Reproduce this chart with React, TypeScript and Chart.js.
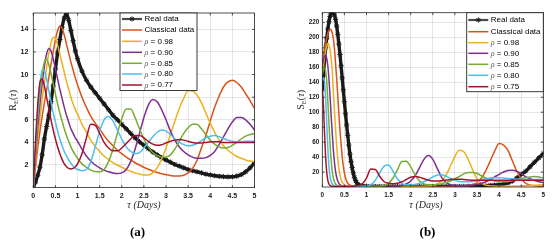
import { useEffect, useRef } from "react";
import { Chart, registerables } from "chart.js";

Chart.register(...registerables);

// ---------------- Panel (a): R_E(tau) ----------------
const TAU_A = [
  0, 0.05, 0.1, 0.15, 0.2, 0.25, 0.3, 0.35, 0.4, 0.45, 0.5, 0.55, 0.6, 0.65, 0.7, 0.75, 0.8, 0.85, 0.9, 0.95, 1,
  1.1, 1.2, 1.3, 1.4, 1.5, 1.6, 1.7, 1.8, 1.9, 2, 2.1, 2.2, 2.3, 2.4, 2.5, 2.6, 2.7, 2.8, 2.9, 3,
  3.1, 3.2, 3.3, 3.4, 3.5, 3.6, 3.7, 3.8, 3.9, 4, 4.1, 4.2, 4.3, 4.4, 4.5, 4.6, 4.7, 4.8, 4.9, 5,
];
const A_REAL = [
  0, 0.5, 1.1, 1.8, 2.9, 4.3, 5.4, 6.4, 7.6, 9.0, 10.5, 11.9, 13.1, 14.2, 15.0, 15.4, 14.8, 13.9, 13.0, 12.1, 11.4,
  10.3, 9.5, 8.9, 8.4, 7.9, 7.4, 6.9, 6.4, 6.0, 5.6, 5.2, 4.8, 4.4, 4.05, 3.75, 3.45, 3.15, 2.9, 2.65, 2.45,
  2.25, 2.05, 1.9, 1.75, 1.6, 1.5, 1.4, 1.3, 1.2, 1.12, 1.05, 1.0, 0.97, 0.95, 0.96, 1.02, 1.15, 1.4, 1.75, 2.2,
];
const A_CLASSICAL = [
  0, 1.8, 3.5, 5.0, 6.3, 7.5, 8.6, 9.7, 10.9, 12.0, 13.1, 13.9, 14.3, 14.1, 13.5, 12.7, 11.9, 11.1, 10.4, 9.7, 9.1,
  8.0, 7.1, 6.3, 5.7, 5.2, 4.6, 4.1, 3.7, 3.3, 3.0, 2.7, 2.45, 2.2, 2.0, 1.8, 1.62, 1.47, 1.33, 1.22, 1.13,
  1.07, 1.03, 1.03, 1.1, 1.3, 1.7, 2.4, 3.5, 4.6, 5.9, 7.1, 8.1, 8.9, 9.35, 9.5, 9.3, 8.9, 8.3, 7.7, 7.0,
];
const A_R098 = [
  0, 2.3, 4.4, 6.2, 7.8, 9.2, 10.6, 11.9, 12.8, 13.3, 13.2, 12.6, 11.8, 11.0, 10.2, 9.4, 8.7, 8.0, 7.4, 6.9, 6.5,
  5.6, 4.9, 4.2, 3.65, 3.2, 2.8, 2.5, 2.2, 2.0, 1.8, 1.6, 1.45, 1.3, 1.2, 1.12, 1.12, 1.3, 1.75, 2.5, 3.5,
  4.7, 5.9, 7.0, 7.9, 8.6, 8.55, 8.2, 7.5, 6.6, 5.7, 4.9, 4.2, 3.7, 3.3, 3.0, 2.75, 2.6, 2.45, 2.35, 2.3,
];
const A_R090 = [
  0, 2.8, 5.3, 7.4, 9.2, 10.7, 11.8, 12.3, 12.1, 11.4, 10.5, 9.6, 8.7, 7.9, 7.1, 6.4, 5.8, 5.2, 4.8, 4.4, 4.1,
  3.4, 2.8, 2.35, 2.0, 1.75, 1.55, 1.4, 1.3, 1.25, 1.3, 1.6, 2.3, 3.4, 4.8, 6.2, 7.3, 7.8, 7.6, 6.9, 6.0,
  5.0, 4.2, 3.6, 3.2, 2.9, 2.7, 2.6, 2.6, 2.65, 2.85, 3.2, 3.8, 4.5, 5.2, 5.8, 6.2, 6.2, 6.0, 5.6, 5.1,
];
const A_R085 = [
  0, 3.2, 6.0, 8.3, 10.0, 11.1, 11.35, 10.9, 10.1, 9.2, 8.3, 7.4, 6.6, 5.9, 5.2, 4.6, 4.1, 3.6, 3.2, 2.9, 2.6,
  2.1, 1.8, 1.55, 1.42, 1.4, 1.6, 2.3, 3.4, 4.8, 6.1, 6.95, 6.95, 6.2, 5.2, 4.3, 3.6, 3.1, 2.85, 2.7, 2.7,
  2.9, 3.4, 4.1, 4.8, 5.3, 5.6, 5.6, 5.2, 4.7, 4.2, 3.85, 3.6, 3.5, 3.55, 3.75, 4.0, 4.3, 4.55, 4.7, 4.8,
];
const A_R080 = [
  0, 3.6, 6.8, 9.1, 10.4, 10.3, 9.6, 8.6, 7.6, 6.6, 5.8, 5.0, 4.3, 3.7, 3.2, 2.8, 2.45, 2.15, 1.9, 1.7, 1.6,
  1.5, 1.6, 2.3, 3.6, 5.0, 6.0, 6.3, 5.9, 5.1, 4.3, 3.6, 3.2, 3.0, 3.1, 3.5, 4.0, 4.5, 4.9, 5.1, 5.0,
  4.7, 4.3, 4.0, 3.8, 3.7, 3.75, 3.9, 4.15, 4.4, 4.55, 4.6, 4.5, 4.35, 4.2, 4.1, 4.05, 4.05, 4.1, 4.1, 4.1,
];
const A_R077 = [
  0, 4.0, 7.3, 9.3, 9.6, 9.0, 8.0, 7.0, 6.0, 5.1, 4.3, 3.6, 3.0, 2.5, 2.1, 1.85, 1.7, 1.65, 1.7, 1.85, 2.1,
  3.0, 4.4, 5.6, 5.5, 4.8, 4.0, 3.5, 3.25, 3.25, 3.5, 3.9, 4.3, 4.6, 4.6, 4.4, 4.1, 3.85, 3.75, 3.8, 3.95,
  4.1, 4.2, 4.25, 4.2, 4.1, 4.0, 3.95, 3.95, 4.0, 4.05, 4.05, 4.05, 4.0, 4.0, 4.0, 4.0, 4.0, 4.0, 4.0, 4.0,
];
const A_Y_TICKS = [2, 4, 6, 8, 10, 12, 14];
const A_Y_MAX = 15.45;

// ---------------- Panel (b): S_E(tau) ----------------
const TAU_B = [
  0, 0.025, 0.05, 0.075, 0.1, 0.125, 0.15, 0.175, 0.2, 0.225, 0.25, 0.275, 0.3, 0.325, 0.35, 0.375, 0.4,
  0.425, 0.45, 0.475, 0.5, 0.525, 0.55, 0.575, 0.6, 0.625, 0.65, 0.675, 0.7, 0.725, 0.75, 0.775, 0.8,
  0.9, 1, 1.1, 1.2, 1.3, 1.4, 1.5, 1.6, 1.7, 1.8, 1.9, 2, 2.1, 2.2, 2.3, 2.4, 2.5, 2.6, 2.7, 2.8, 2.9, 3,
  3.1, 3.2, 3.3, 3.4, 3.5, 3.6, 3.7, 3.8, 3.9, 4, 4.1, 4.2, 4.3, 4.4, 4.5, 4.6, 4.7, 4.8, 4.9, 5,
];
const B_REAL = [
  130, 150, 170, 186, 199, 211, 221, 228, 232, 233, 233, 230, 224, 215, 204, 191, 177,
  162, 146, 130, 114, 98, 83, 69, 56, 44, 34, 26, 19, 13, 9, 6, 4,
  1.8, 1.0, 0.8, 0.7, 0.6, 0.6, 0.6, 0.6, 0.6, 0.6, 0.6, 0.6, 0.6, 0.6, 0.6, 0.6, 0.6, 0.6, 0.6, 0.6, 0.6, 0.7,
  0.7, 0.8, 0.9, 1.0, 1.1, 1.3, 1.6, 2.0, 2.5, 3.0, 4.0, 5.5, 8.0, 12, 17, 21, 27, 33, 39, 45,
];
const B_CLASSICAL = [
  160, 172, 182, 191, 199, 205, 209, 211, 210, 206, 198, 185, 165, 145, 122, 98, 76,
  57, 41, 28, 19, 12, 8, 5, 3.5, 2.5, 2, 1.6, 1.3, 1.1, 1, 0.9, 0.8,
  0.7, 0.6, 0.6, 0.6, 0.6, 0.6, 0.6, 0.6, 0.6, 0.6, 0.6, 0.6, 0.6, 0.6, 0.6, 0.6, 0.6, 0.6, 0.6, 0.7, 0.7, 0.8,
  0.9, 1.0, 1.5, 3, 6, 12, 22, 35, 48, 58, 56, 49, 35, 21, 11, 5, 2.5, 1.5, 1.0, 1.0,
];
const B_R098 = [
  150, 162, 173, 182, 189, 192, 190, 184, 172, 155, 128, 102, 77, 55, 38, 25, 16,
  10, 6.5, 4.5, 3, 2.2, 1.7, 1.4, 1.2, 1.0, 0.9, 0.8, 0.7, 0.7, 0.6, 0.6, 0.6,
  0.6, 0.6, 0.6, 0.6, 0.6, 0.6, 0.6, 0.6, 0.6, 0.6, 0.6, 0.6, 0.7, 0.8, 0.9, 1.2, 2, 4, 8, 16, 28, 41,
  49, 47, 37, 23, 11, 5, 2.5, 1.5, 1.2, 1.0, 1.0, 1.1, 1.2, 1.4, 1.6, 1.8, 2.0, 2.3, 2.6, 3,
];
const B_R090 = [
  163, 170, 175, 176, 172, 162, 145, 122, 96, 72, 50, 33, 21, 13, 8, 5, 3,
  2, 1.5, 1.2, 1, 0.9, 0.8, 0.7, 0.7, 0.6, 0.6, 0.6, 0.6, 0.6, 0.6, 0.6, 0.6,
  0.6, 0.6, 0.6, 0.6, 0.6, 0.6, 0.6, 0.7, 1.0, 2, 4, 8, 15, 26, 37, 42, 37, 25, 13, 6, 3, 2,
  1.5, 1.5, 2, 2.5, 3.5, 5, 7, 10, 13.5, 17, 20, 22, 22.5, 21, 18, 14, 11, 8.5, 7, 6,
];
const B_R085 = [
  153, 159, 160, 155, 142, 115, 86, 58, 36, 21, 12, 7, 4, 2.5, 1.8, 1.4, 1.1,
  1, 0.9, 0.8, 0.7, 0.7, 0.6, 0.6, 0.6, 0.6, 0.6, 0.6, 0.6, 0.6, 0.6, 0.6, 0.6,
  0.6, 0.6, 0.6, 0.7, 0.9, 2, 5, 12, 23, 34, 34.5, 27, 16, 8, 4, 3, 3, 3.5, 4.5, 6, 8, 11,
  14, 17.5, 19.5, 19.5, 18, 15, 12, 9.5, 8, 7, 7, 7.5, 8.5, 10, 11.5, 12.5, 13.5, 14, 13.5, 12,
];
const B_R080 = [
  143, 146, 140, 120, 85, 52, 28, 14, 7, 4, 2.5, 1.8, 1.4, 1.1, 1, 0.9, 0.8,
  0.7, 0.7, 0.6, 0.6, 0.6, 0.6, 0.6, 0.6, 0.6, 0.6, 0.6, 0.6, 0.6, 0.6, 0.6, 0.6,
  0.7, 0.9, 3, 9, 19, 28, 29.5, 21, 11, 5, 3, 3, 3.5, 5, 7, 10, 13.5, 16, 16.5, 14.5, 11.5, 9,
  7.5, 7, 7, 7.5, 8.5, 10, 11, 12, 12.5, 12.5, 12, 11.5, 11, 10.5, 10, 10, 10, 10, 10, 10,
];
const B_R075 = [
  135, 110, 72, 40, 20, 9, 4, 2, 1.2, 0.9, 0.8, 0.7, 0.7, 0.6, 0.6, 0.6, 0.6,
  0.6, 0.6, 0.6, 0.6, 0.6, 0.6, 0.6, 0.7, 0.7, 0.8, 0.9, 1.0, 1.2, 1.4, 1.7, 2.0,
  4, 12, 24, 23.5, 14, 7, 5, 4.5, 5, 7, 10, 13, 14, 13, 11, 9, 8, 8, 8.5, 9.5, 10, 10.5,
  10.5, 10, 9.5, 9, 9, 9, 9, 9, 9, 9, 9, 9, 9, 9, 9, 9, 9, 9, 9, 9,
];
const B_Y_TICKS = [20, 40, 60, 80, 100, 120, 140, 160, 180, 200, 220];
const B_Y_MAX = 233;

const X_TICKS = [0, 0.5, 1, 1.5, 2, 2.5, 3, 3.5, 4, 4.5, 5];

const NAMES_A = ["Real data", "Classical data", "0.98", "0.90", "0.85", "0.80", "0.77"];
const NAMES_B = ["Real data", "Classical data", "0.98", "0.90", "0.85", "0.80", "0.75"];

// ---------------- styling ----------------
const COLORS = ["#1a1a1a", "#D95319", "#EDB120", "#7E2F8E", "#77AC30", "#4DBEEE", "#A2142F"];
const SANS = '"Liberation Sans", Arial, Helvetica, sans-serif';
const SERIF = '"Liberation Serif", "Times New Roman", serif';
const AXIS_COLOR = "#262626";
const GRID_COLOR = "rgba(38,38,38,0.14)";

type Entry = { name: string; data: number[]; color: string; real: boolean; rho: boolean };

type Layout = {
  width: number;
  height: number;
  area: { left: number; right: number; top: number; bottom: number };
  yMax: number;
  tickFont: number;
  yPad: number;
  xPad: number;
  yTitle: { x: number; main: string; sub: string };
  xTitle: { x: number; y: number };
  tag: { text: string; x: number; y: number };
  legend: { x: number; y: number; w: number; h: number; x0: number; x1: number; tx: number; rows: number[] };
};

function buildEntries(names: string[], series: number[][]): Entry[] {
  return names.map((n, i) => ({
    name: n,
    data: series[i],
    color: COLORS[i],
    real: i === 0,
    rho: i >= 2,
  }));
}

const ENTRIES_A = buildEntries(NAMES_A, [A_REAL, A_CLASSICAL, A_R098, A_R090, A_R085, A_R080, A_R077]);
const ENTRIES_B = buildEntries(NAMES_B, [B_REAL, B_CLASSICAL, B_R098, B_R090, B_R085, B_R080, B_R075]);

const LAYOUT_A: Layout = {
  width: 280,
  height: 249,
  area: { left: 33.3, right: 254.5, top: 13, bottom: 187.6 },
  yMax: A_Y_MAX,
  tickFont: 7,
  yPad: 5,
  xPad: 4,
  yTitle: { x: 13.5, main: "R", sub: "E" },
  xTitle: { x: 144, y: 205 },
  tag: { text: "(a)", x: 137.5, y: 232.5 },
  legend: { x: 120, y: 13, w: 77, h: 77.5, x0: 122, x1: 142, tx: 144.5, rows: [19, 30, 41.3, 52.3, 63.3, 74, 85] },
};

const LAYOUT_B: Layout = {
  width: 279,
  height: 249,
  area: { left: 42.3, right: 263.3, top: 12.7, bottom: 187 },
  yMax: B_Y_MAX,
  tickFont: 6.3,
  yPad: 3,
  xPad: 4,
  yTitle: { x: 21.7, main: "S", sub: "E" },
  xTitle: { x: 146, y: 205 },
  tag: { text: "(b)", x: 147.5, y: 233 },
  legend: { x: 186.7, y: 12.7, w: 76.6, h: 79, x0: 188.3, x1: 208.3, tx: 210.7, rows: [20, 31.7, 42.7, 53.3, 64.3, 75.3, 86.7] },
};

function drawStar(ctx: CanvasRenderingContext2D, x: number, y: number, r: number) {
  ctx.beginPath();
  for (let k = 0; k < 4; k++) {
    const a = (k * Math.PI) / 4;
    ctx.moveTo(x - r * Math.cos(a), y - r * Math.sin(a));
    ctx.lineTo(x + r * Math.cos(a), y + r * Math.sin(a));
  }
  ctx.stroke();
}

function Panel({ tau, entries, yTicks, layout, left }: { tau: number[]; entries: Entry[]; yTicks: number[]; layout: Layout; left: number }) {
  const ref = useRef<HTMLCanvasElement>(null);

  useEffect(() => {
    const canvas = ref.current;
    if (!canvas) return;
    const L = layout;

    const datasets = entries
      .slice()
      .reverse()
      .map((e) => ({
        label: e.name,
        data: tau.map((t, i) => ({ x: t, y: e.data[i] })),
        borderColor: e.color,
        backgroundColor: e.color,
        borderWidth: e.real ? 3.4 : 1.5,
        pointRadius: e.real ? 2.6 : 0,
        pointHoverRadius: 0,
        pointStyle: "star" as const,
        pointBorderColor: e.color,
        pointBorderWidth: 1,
        cubicInterpolationMode: "monotone" as const,
        clip: 0,
        fill: false,
      }));

    const decor = {
      id: "decor",
      afterDatasetsDraw(chart: any) {
        const ctx: CanvasRenderingContext2D = chart.ctx;
        const a = chart.chartArea;
        const xs = chart.scales.x;
        const ys = chart.scales.y;
        ctx.save();
        // frame
        ctx.strokeStyle = AXIS_COLOR;
        ctx.lineWidth = 0.8;
        ctx.strokeRect(a.left, a.top, a.right - a.left, a.bottom - a.top);
        // inward tick marks
        const tl = 2.5;
        ctx.beginPath();
        X_TICKS.forEach((v) => {
          const px = xs.getPixelForValue(v);
          ctx.moveTo(px, a.bottom);
          ctx.lineTo(px, a.bottom - tl);
          ctx.moveTo(px, a.top);
          ctx.lineTo(px, a.top + tl);
        });
        yTicks.forEach((v) => {
          const py = ys.getPixelForValue(v);
          ctx.moveTo(a.left, py);
          ctx.lineTo(a.left + tl, py);
          ctx.moveTo(a.right, py);
          ctx.lineTo(a.right - tl, py);
        });
        ctx.stroke();

        // legend
        const lg = L.legend;
        ctx.fillStyle = "#ffffff";
        ctx.fillRect(lg.x, lg.y, lg.w, lg.h);
        ctx.strokeStyle = AXIS_COLOR;
        ctx.lineWidth = 0.9;
        ctx.strokeRect(lg.x, lg.y, lg.w, lg.h);
        entries.forEach((e, i) => {
          const y = lg.rows[i];
          ctx.beginPath();
          ctx.strokeStyle = e.real ? "#4a4a4a" : e.color;
          ctx.lineWidth = e.real ? 2.2 : 1.5;
          ctx.moveTo(lg.x0, y);
          ctx.lineTo(lg.x1, y);
          ctx.stroke();
          if (e.real) {
            ctx.strokeStyle = "#1a1a1a";
            ctx.lineWidth = 1;
            drawStar(ctx, (lg.x0 + lg.x1) / 2, y, 2.6);
          }
          ctx.textBaseline = "middle";
          ctx.textAlign = "left";
          if (e.rho) {
            ctx.font = `italic 8px ${SERIF}`;
            ctx.fillStyle = "#555555";
            ctx.fillText("ρ", lg.tx, y + 0.5);
            const w = ctx.measureText("ρ").width;
            ctx.font = `8px ${SANS}`;
            ctx.fillStyle = "#000000";
            ctx.fillText(" = " + e.name, lg.tx + w, y);
          } else {
            ctx.font = `8px ${SANS}`;
            ctx.fillStyle = "#000000";
            ctx.fillText(e.name, lg.tx, y);
          }
        });
        ctx.restore();
      },
      afterDraw(chart: any) {
        const ctx: CanvasRenderingContext2D = chart.ctx;
        const a = chart.chartArea;
        ctx.save();
        ctx.fillStyle = "#262626";
        // x title
        ctx.font = `italic 10px ${SERIF}`;
        ctx.textAlign = "center";
        ctx.textBaseline = "middle";
        ctx.fillText("τ (Days)", L.xTitle.x, L.xTitle.y);
        // y title (rotated, with subscript)
        const parts = [
          { t: L.yTitle.main, f: `10px ${SERIF}`, dy: 0 },
          { t: L.yTitle.sub, f: `6.5px ${SERIF}`, dy: 2.5 },
          { t: "(", f: `10px ${SERIF}`, dy: 0 },
          { t: "τ", f: `italic 10px ${SERIF}`, dy: 0 },
          { t: ")", f: `10px ${SERIF}`, dy: 0 },
        ];
        let total = 0;
        const widths = parts.map((p) => {
          ctx.font = p.f;
          const w = ctx.measureText(p.t).width;
          total += w;
          return w;
        });
        ctx.translate(L.yTitle.x, (a.top + a.bottom) / 2);
        ctx.rotate(-Math.PI / 2);
        ctx.textAlign = "left";
        let cx = -total / 2;
        parts.forEach((p, i) => {
          ctx.font = p.f;
          ctx.fillText(p.t, cx, p.dy);
          cx += widths[i];
        });
        ctx.setTransform(1, 0, 0, 1, 0, 0);
        // panel tag
        ctx.fillStyle = "#000000";
        ctx.font = `bold 13px ${SERIF}`;
        ctx.textAlign = "center";
        ctx.fillText(L.tag.text, L.tag.x, L.tag.y);
        ctx.restore();
      },
    };

    const chart = new Chart(canvas, {
      type: "line",
      data: { datasets: datasets as any },
      options: {
        responsive: false,
        devicePixelRatio: 1,
        animation: false,
        events: [],
        layout: { padding: { top: L.area.top, right: L.width - L.area.right, left: 0, bottom: 0 } },
        plugins: { legend: { display: false }, tooltip: { enabled: false }, title: { display: false } },
        scales: {
          x: {
            type: "linear",
            min: 0,
            max: 5,
            afterBuildTicks: (s: any) => {
              s.ticks = X_TICKS.map((v) => ({ value: v }));
            },
            afterFit: (s: any) => {
              s.height = L.height - L.area.bottom;
            },
            ticks: {
              autoSkip: false,
              maxRotation: 0,
              padding: L.xPad,
              color: "#1a1a1a",
              font: { family: SANS, size: L.tickFont, weight: "bold" },
              callback: (v: any) => String(v),
            },
            grid: { color: GRID_COLOR, lineWidth: 0.8, drawTicks: false },
            border: { display: false },
          },
          y: {
            type: "linear",
            min: 0,
            max: L.yMax,
            afterBuildTicks: (s: any) => {
              s.ticks = yTicks.map((v) => ({ value: v }));
            },
            afterFit: (s: any) => {
              s.width = L.area.left;
            },
            ticks: {
              autoSkip: false,
              padding: L.yPad,
              color: "#1a1a1a",
              font: { family: SANS, size: L.tickFont, weight: "bold" },
              callback: (v: any) => String(v),
            },
            grid: { color: GRID_COLOR, lineWidth: 0.8, drawTicks: false },
            border: { display: false },
          },
        },
      },
      plugins: [decor],
    });
    return () => chart.destroy();
  }, [tau, entries, yTicks, layout]);

  return (
    <canvas
      ref={ref}
      width={layout.width}
      height={layout.height}
      style={{ position: "absolute", left, top: 0, width: layout.width, height: layout.height }}
    />
  );
}

export default function App() {
  return (
    <div style={{ position: "absolute", left: 0, top: 0, width: 559, height: 249, background: "#ffffff", overflow: "hidden" }}>
      <Panel tau={TAU_A} entries={ENTRIES_A} yTicks={A_Y_TICKS} layout={LAYOUT_A} left={0} />
      <Panel tau={TAU_B} entries={ENTRIES_B} yTicks={B_Y_TICKS} layout={LAYOUT_B} left={280} />
    </div>
  );
}
